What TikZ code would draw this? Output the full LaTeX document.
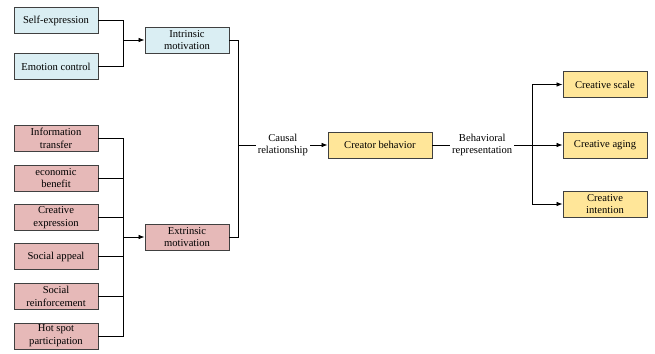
\documentclass[tikz,border=0pt]{standalone}
\usepackage{fontspec}
\setmainfont{Liberation Serif}
\usetikzlibrary{arrows.meta}
\definecolor{bluefill}{HTML}{DAEEF3}
\definecolor{pinkfill}{HTML}{E6B9B8}
\definecolor{yellowfill}{HTML}{FFE699}
\definecolor{edge}{HTML}{404040}
\tikzset{
  box/.style={draw=edge, line width=0.9pt, minimum width=84pt, minimum height=26pt, inner sep=1pt, align=center, font=\fontsize{10.6}{12.8}\selectfont},
  bbox/.style={box, fill=bluefill},
  pbox/.style={box, fill=pinkfill},
  ybox/.style={box, fill=yellowfill},
  conn/.style={draw=black, line width=0.7pt},
  arr/.style={conn, -{Latex[length=6pt,width=4.5pt]}},
  lbl/.style={fill=white, inner sep=2pt, align=center, font=\fontsize{10.6}{12.8}\selectfont}
}
\begin{document}
\begin{tikzpicture}[x=1pt,y=-1pt]
\useasboundingbox (0,0) rectangle (655,353);
% left blue
\node[bbox] (se) at (56,20.5) {Self-expression};
\node[bbox] (ec) at (56,66.5) {Emotion control};
\node[bbox] (im) at (187,40) {Intrinsic\\motivation};
% pink
\node[pbox] (it) at (56,138.5) {Information\\transfer};
\node[pbox] (eb) at (56,178) {economic\\benefit};
\node[pbox] (ce) at (56,217.5) {Creative\\expression};
\node[pbox] (sa) at (56,256.5) {Social appeal};
\node[pbox] (sr) at (56,296.5) {Social\\reinforcement};
\node[pbox] (hs) at (56,336) {Hot spot\\participation};
\node[pbox] (em) at (187,237) {Extrinsic\\motivation};
% center
\node[ybox, minimum width=104pt] (cb) at (380,145) {Creator behavior};
% right
\node[ybox] (cs) at (605,84.5) {Creative scale};
\node[ybox] (ca) at (605,145) {Creative aging};
\node[ybox] (ci) at (605,204) {Creative\\intention};
% junction coordinates
\coordinate (j1) at (123,40);
\coordinate (j2) at (123,237);
\coordinate (j3) at (238,145);
\coordinate (j4) at (532,145);
% intrinsic connectors
\draw[conn] (se.east) -| (j1);
\draw[conn] (ec.east) -| (j1);
\draw[arr] (j1) -- (im.west);
% extrinsic connectors
\draw[conn] (it.east) -| (j2);
\draw[conn] (eb.east) -| (j2);
\draw[conn] (ce.east) -| (j2);
\draw[conn] (sa.east) -| (j2);
\draw[conn] (sr.east) -| (j2);
\draw[conn] (hs.east) -| (j2);
\draw[arr] (j2) -- (em.west);
% to creator behavior
\draw[conn] (im.east) -| (j3);
\draw[conn] (em.east) -| (j3);
\draw[arr] (j3) -- node[lbl] (cr) {Causal\\relationship} (cb.west);
% to right
\draw[conn] (cb.east) -- node[lbl] (br) {Behavioral\\representation} (j4);
\draw[arr] (j4) |- (cs.west);
\draw[arr] (j4) -- (ca.west);
\draw[arr] (j4) |- (ci.west);
\end{tikzpicture}
\end{document}
